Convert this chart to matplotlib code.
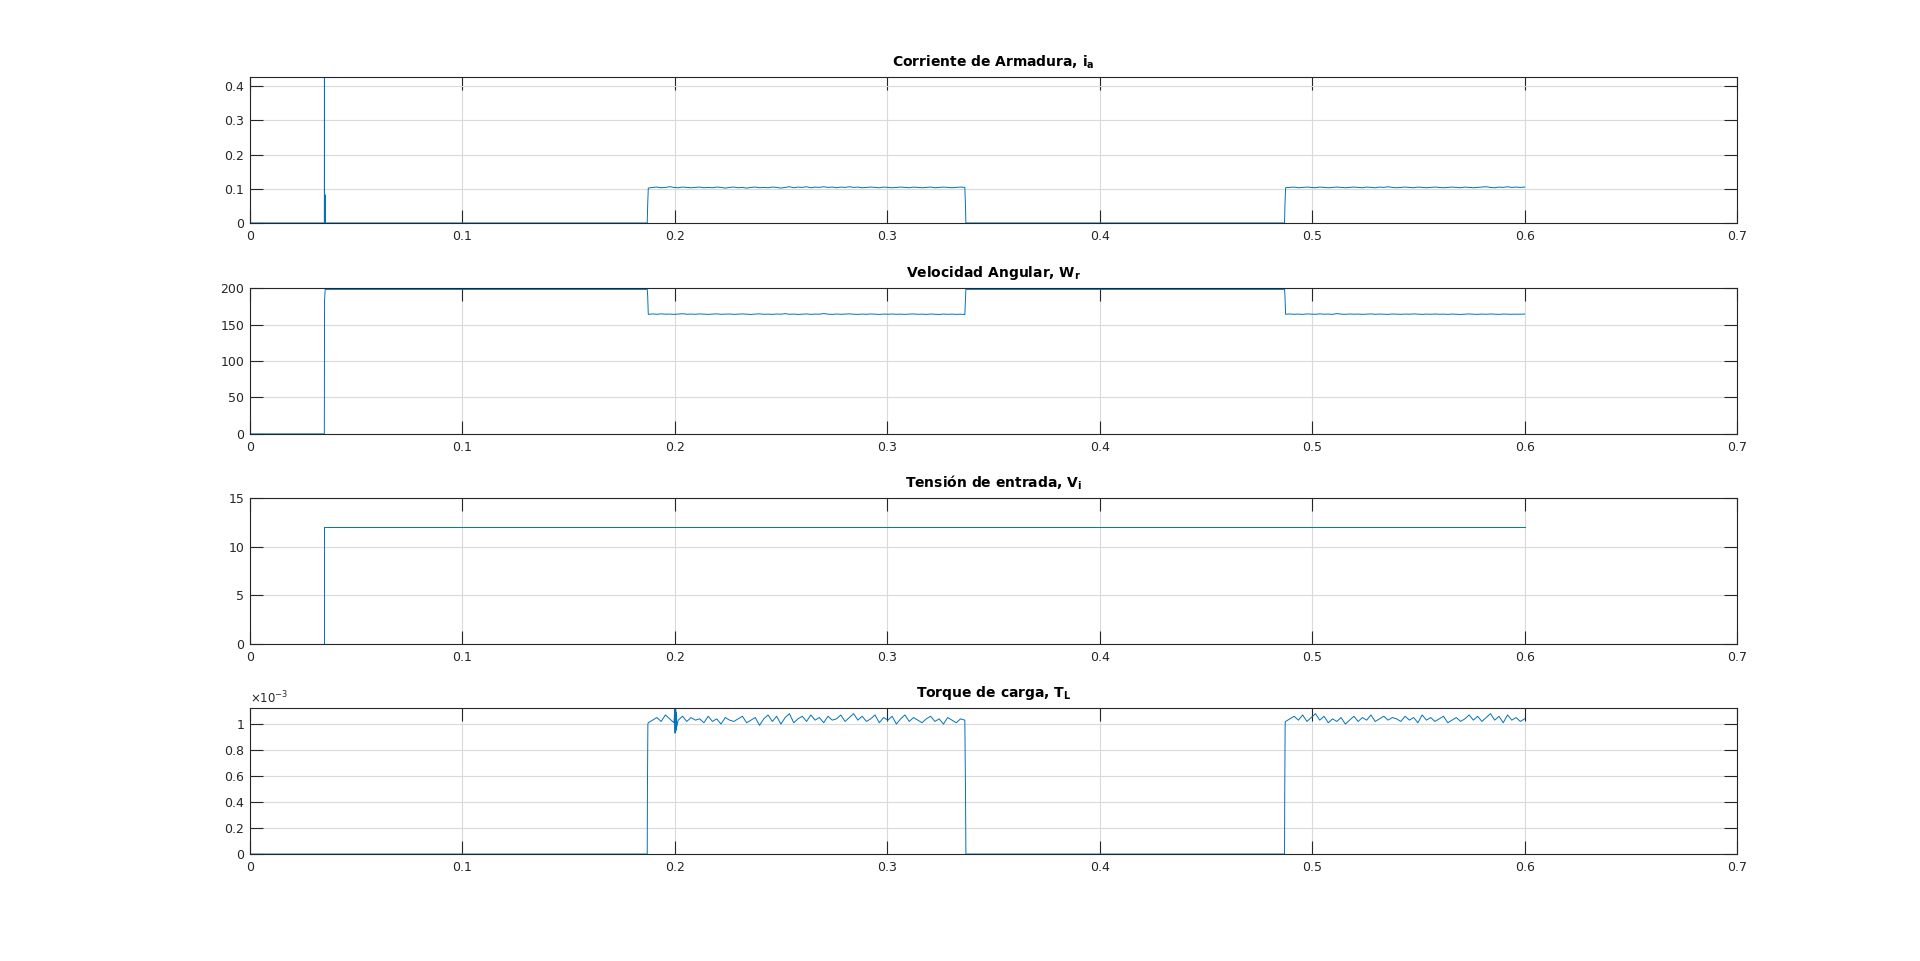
import numpy as np
import matplotlib
matplotlib.use("Agg")
import matplotlib.pyplot as plt
from matplotlib.ticker import FuncFormatter

plt.rcParams['font.family'] = ['DejaVu Sans']
plt.rcParams['mathtext.fontset'] = 'dejavusans'

# ---------------- data ----------------
titles = [r'Corriente de Armadura, $\mathbf{i_{a}}$',
          r'Velocidad Angular, $\mathbf{W_{r}}$',
          r'Tensión de entrada, $\mathbf{V_{i}}$',
          r'Torque de carga, $\mathbf{T_{L}}$']

x_ticks = [0, 0.1, 0.2, 0.3, 0.4, 0.5, 0.6, 0.7]

# switching instants (s)
t_start = 0.0350
t_on1, t_off1 = 0.1870, 0.3368
t_on2, t_end = 0.4870, 0.6000

# armature current: start-up spike and plateaus
ia_spike_t = [0.0, 0.0350, 0.03505, 0.0351, 0.03515, 0.0352, 0.03525, 0.0353, 0.03535, 0.0354]
ia_spike_v = [0.0, 0.0, 0.426, 0.0, 0.085, 0.0, 0.082, 0.0, 0.06, 0.0]
ia_plat1 = [0.102,0.104,0.105,0.103,0.104,0.106,0.104,0.103,0.105,0.104,
            0.103,0.104,0.105,0.103,0.104,0.103,0.105,0.104,0.102,0.104,
            0.105,0.103,0.104,0.102,0.104,0.105,0.103,0.104,0.103,0.105,
            0.104,0.102,0.104,0.106,0.103,0.105,0.104,0.106,0.103,0.105,
            0.104,0.106,0.104,0.105,0.103,0.105,0.104,0.106,0.104,0.105,
            0.103,0.104,0.105,0.104,0.103,0.105,0.104,0.103,0.104,0.105,
            0.104,0.103,0.105,0.104,0.103,0.104,0.105,0.103,0.104,0.105,
            0.104,0.103,0.104,0.105,0.104]
ia_plat2 = [0.103,0.104,0.105,0.103,0.104,0.105,0.104,0.103,0.105,0.104,
            0.103,0.104,0.105,0.104,0.103,0.104,0.105,0.104,0.103,0.105,
            0.104,0.103,0.105,0.104,0.106,0.104,0.103,0.104,0.105,0.104,
            0.103,0.105,0.104,0.103,0.104,0.105,0.104,0.103,0.104,0.105,
            0.104,0.103,0.105,0.104,0.103,0.104,0.105,0.106,0.104,0.103,
            0.105,0.104,0.106,0.104,0.105,0.104,0.105]

# angular speed
wr_high = 198.5
wr_rise_mid = 183.0
wr_plat1 = [164.2,164.8,164.3,164.9,164.4,164.6,164.2,164.7,165.1,164.4,
            164.6,164.3,164.8,164.5,164.2,164.6,164.9,164.3,164.5,164.7,
            164.2,164.5,164.8,164.4,164.1,164.6,164.9,164.3,164.5,164.2,
            164.7,164.4,165.2,164.3,164.6,164.1,164.5,164.8,164.2,164.6,
            164.4,165.3,164.5,164.2,164.7,164.3,164.6,164.9,164.4,164.2,
            164.6,164.3,164.8,164.5,164.1,164.6,164.4,164.7,164.3,164.5,
            164.2,164.6,164.8,164.3,164.5,164.2,164.7,164.4,164.1,164.6,
            164.3,164.5,164.2,164.4,164.0]
wr_plat2 = [164.4,164.7,164.3,164.6,164.2,164.8,164.5,164.3,164.9,164.4,
            164.6,164.2,165.3,164.5,164.3,164.7,164.4,164.6,164.2,164.5,
            164.8,164.3,164.6,164.4,164.2,164.7,164.5,164.3,164.6,164.4,
            164.8,164.5,164.2,164.6,164.3,164.7,164.4,164.5,164.2,164.6,
            164.3,164.1,164.5,164.8,164.4,164.2,164.6,164.3,164.7,164.5,
            164.2,164.6,164.4,164.3,164.5,164.4,164.6]

# input voltage
vi_level = 12.0

# load torque (x1e-3)
tl_plat1 = [1.01,1.03,1.05,1.02,1.07,1.04,1.01,1.03,1.06,1.02,
            1.05,1.03,1.04,1.01,1.06,1.02,1.04,1.00,1.05,1.03,
            1.02,1.04,1.06,1.01,1.03,1.05,0.99,1.04,1.07,1.02,
            1.06,1.00,1.05,1.08,1.01,1.04,1.06,1.02,1.07,1.03,
            1.05,1.01,1.06,1.03,1.04,1.07,1.02,1.05,1.08,1.03,
            1.06,1.02,1.04,1.07,1.01,1.05,1.03,1.06,1.00,1.04,
            1.07,1.02,1.05,1.03,1.01,1.04,1.06,1.02,1.04,1.00,
            1.05,1.03,1.01,1.04,1.03]
tl_spike_t = [0.2000, 0.2001, 0.2002, 0.2003, 0.2004, 0.2005, 0.2006, 0.2007, 0.2008, 0.2009]
tl_spike_v = [1.12, 0.93, 1.12, 0.94, 1.11, 0.95, 1.09, 0.96, 1.07, 0.98]
tl_plat2 = [1.02,1.04,1.06,1.03,1.07,1.02,1.05,1.08,1.03,1.06,
            1.01,1.04,1.02,1.05,1.00,1.03,1.06,1.02,1.05,1.03,
            1.07,1.02,1.04,1.06,1.03,1.05,1.04,1.02,1.06,1.03,
            1.05,1.01,1.07,1.03,1.05,1.02,1.04,1.06,1.01,1.03,
            1.05,1.02,1.04,1.07,1.03,1.06,1.02,1.05,1.08,1.03,
            1.06,1.01,1.07,1.03,1.05,1.02,1.04]


def plateau_times(t0, t1, vals):
    return list(np.linspace(t0, t1, len(vals)))


# ---------- build series ----------
p1t = plateau_times(t_on1 + 0.0005, t_off1 - 0.0003, ia_plat1)
p2t = plateau_times(t_on2 + 0.0005, t_end, ia_plat2)

ia_t = ia_spike_t + [t_on1, t_on1 + 0.0002] + p1t + [t_off1, t_off1 + 0.0002, t_on2, t_on2 + 0.0002] + p2t
ia_v = ia_spike_v + [0.0, 0.052] + ia_plat1 + [0.052, 0.0, 0.0, 0.052] + ia_plat2

wr_t = [0.0, t_start, t_start + 0.0001, t_start + 0.0004, t_on1, t_on1 + 0.0002] + p1t + \
       [t_off1, t_off1 + 0.0002, t_on2, t_on2 + 0.0002] + p2t
wr_v = [0.0, 0.0, wr_rise_mid, wr_high, wr_high, 190.0] + wr_plat1 + \
       [185.0, wr_high, wr_high, 190.0] + wr_plat2

vi_t = [0.0, t_start, t_start, t_end]
vi_v = [0.0, 0.0, vi_level, vi_level]

tl1_t = p1t + tl_spike_t
tl1_v = tl_plat1 + tl_spike_v
order = np.argsort(tl1_t)
tl1_t = list(np.array(tl1_t)[order])
tl1_v = list(np.array(tl1_v)[order])
tl_t = [0.0, t_on1, t_on1 + 0.0001, t_on1 + 0.0003] + tl1_t + \
       [t_off1, t_off1 + 0.0002, t_on2, t_on2 + 0.0001, t_on2 + 0.0003] + p2t
tl_v = [0.0, 0.0, 0.5, 1.0] + tl1_v + [0.52, 0.0, 0.0, 0.5, 1.01] + tl_plat2
tl_v = [v * 1e-3 for v in tl_v]

series = [(ia_t, ia_v), (wr_t, wr_v), (vi_t, vi_v), (tl_t, tl_v)]
ylims = [(0, 0.426), (0, 200), (0, 15), (0, 1.12e-3)]
yticks = [[0, 0.1, 0.2, 0.3, 0.4], [0, 50, 100, 150, 200], [0, 5, 10, 15],
          [0, 0.2e-3, 0.4e-3, 0.6e-3, 0.8e-3, 1.0e-3]]

# ---------- figure ----------
fig = plt.figure(figsize=(19.2, 9.61), dpi=100)
left, width, height = 0.1302, 0.7745, 0.1515
bottoms = [0.768, 0.5485, 0.3299, 0.1113]
line_color = '#0072BD'
axis_color = '#262626'

gfmt = FuncFormatter(lambda v, p: ('%g' % round(v, 6)))
tlfmt = FuncFormatter(lambda v, p: ('%g' % round(v * 1e3, 6)))

for k in range(4):
    ax = fig.add_axes([left, bottoms[k], width, height])
    t, v = series[k]
    ax.plot(t, v, color=line_color, lw=0.7)
    ax.set_xlim(0, 0.7)
    ax.set_ylim(*ylims[k])
    ax.set_xticks(x_ticks)
    ax.set_yticks(yticks[k])
    ax.xaxis.set_major_formatter(gfmt)
    ax.yaxis.set_major_formatter(tlfmt if k == 3 else gfmt)
    ax.grid(True, color='#dadada', lw=0.8)
    ax.set_axisbelow(True)
    for s in ax.spines.values():
        s.set_color(axis_color)
        s.set_linewidth(0.8)
    ax.tick_params(direction='in', top=True, right=True, length=9.4, width=0.8,
                   color=axis_color, labelcolor=axis_color, labelsize=9)
    ax.tick_params(axis='x', pad=5)
    ax.tick_params(axis='y', pad=4)
    ax.set_title(titles[k], fontsize=10, fontweight='bold', pad=8)
    if k == 3:
        ax.text(0.0, 1.012, r'$\times10^{-3}$', transform=ax.transAxes,
                fontsize=8.5, color=axis_color, ha='left', va='bottom')

fig.savefig('out.png', dpi=100, facecolor='white')
